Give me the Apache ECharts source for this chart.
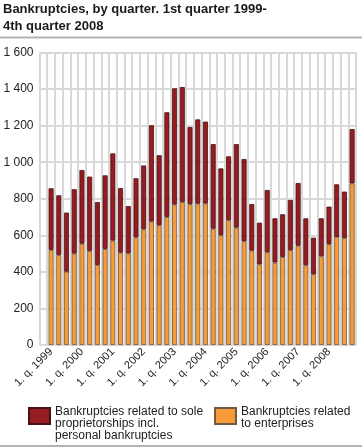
<!DOCTYPE html>
<html>
<head>
<meta charset="utf-8">
<script src="https://cdn.jsdelivr.net/npm/echarts@6/dist/echarts.min.js"></script>
<style>
html,body{margin:0;padding:0;background:#fff;}
#chart{width:362px;height:448px;}
</style>
</head>
<body>
<div id="chart"></div>
<script>
var years = [1999,2000,2001,2002,2003,2004,2005,2006,2007,2008];
var categories = [];
years.forEach(function(y){ for (var q = 1; q <= 4; q++) categories.push(q + '. q. ' + y); });

var enterprises = [520,492,401,500, 554,514,438,525, 571,505,501,589, 633,675,655,700,
  768,782,770,773, 774,636,600,682, 642,567,516,441, 507,451,481,518,
  543,436,387,485, 551,591,585,884];
var soleProprietorships = [337,327,323,352, 403,407,344,403, 477,353,259,323, 349,527,383,573,
  636,629,422,461, 448,463,366,350, 457,450,255,228, 341,242,234,275,
  343,257,200,208, 206,288,254,297];

var yTicks = [0,200,400,600,800,1000,1200,1400,1600];

var nameSole = 'Bankruptcies related to sole\nproprietorships incl.\npersonal bankruptcies';
var nameEnt = 'Bankruptcies related\nto enterprises';

function legendFormatter(padH) {
  return function (name) {
    return '{p' + padH + '| }\n' + name.split('\n').map(function (l) { return '{t|' + l + '}'; }).join('\n');
  };
}
var richStyles = {
  p16: { fontSize: 1, lineHeight: 16, height: 16 },
  p4: { fontSize: 1, lineHeight: 4, height: 4 },
  t: { fontSize: 12, lineHeight: 12, color: '#222', fontFamily: 'Arial, "Liberation Sans", sans-serif' }
};

var chart = echarts.init(document.getElementById('chart'), null, {renderer:'canvas'});
var xData = [''].concat(categories);
var option = {
  animation: false,
  backgroundColor: '#fff',
  textStyle: { fontFamily: 'Arial, "Liberation Sans", sans-serif' },
  title: {
    text: 'Bankruptcies, by quarter. 1st quarter 1999-\n4th quarter 2008',
    left: 3, top: 1, padding: 0,
    textStyle: { fontSize: 13, fontWeight: 'bold', lineHeight: 17, color: '#1a1a1a', fontFamily: 'Arial, "Liberation Sans", sans-serif' }
  },
  graphic: [
    { type: 'line', shape: { x1: 0, y1: 37.5, x2: 362, y2: 37.5 }, style: { stroke: '#b4b4b4', lineWidth: 2 } },
    { type: 'line', shape: { x1: 0, y1: 446, x2: 362, y2: 446 }, style: { stroke: '#b4b4b4', lineWidth: 2 } }
  ],
  legend: [
    { data: [{ name: nameSole, icon: 'rect' }], left: 28, top: 390, padding: 0, orient: 'vertical',
      itemWidth: 21, itemHeight: 16, selectedMode: false,
      formatter: legendFormatter(16),
      textStyle: { fontSize: 12, color: '#222', rich: richStyles } },
    { data: [{ name: nameEnt, icon: 'rect' }], left: 214, top: 402, padding: 0, orient: 'vertical',
      itemWidth: 21, itemHeight: 16, selectedMode: false,
      formatter: legendFormatter(4),
      textStyle: { fontSize: 12, color: '#222', rich: richStyles } }
  ],
  grid: { left: 39.5, right: 6, top: 52.5, bottom: 103, containLabel: false },
  xAxis: {
    type: 'category',
    data: xData,
    boundaryGap: true,
    axisLine: { show: false },
    axisTick: { show: false },
    axisLabel: {
      interval: function (idx) { return idx > 0 && (idx - 1) % 4 === 0; },
      rotate: 45, fontSize: 11, color: '#222', margin: 5
    },
    splitLine: { show: true, interval: 0, lineStyle: { color: '#d8d8d8', width: 2 } }
  },
  yAxis: {
    type: 'value',
    min: yTicks[0], max: yTicks[yTicks.length - 1], interval: 200,
    axisLine: { show: false },
    axisTick: { show: false },
    axisLabel: {
      fontSize: 12, color: '#222', margin: 6,
      formatter: function (v) { return v >= 1000 ? Math.floor(v / 1000) + ' ' + String(v % 1000).padStart(3, '0') : String(v); }
    },
    splitLine: { show: true, lineStyle: { color: '#d8d8d8', width: 2 } }
  },
  series: [
    { name: nameEnt, type: 'bar', stack: 'total', barWidth: 5,
      data: [null].concat(enterprises),
      itemStyle: { color: '#f79a38', borderColor: '#6f5a46', borderWidth: 0.8 } },
    { name: nameSole, type: 'bar', stack: 'total', barWidth: 5,
      data: [null].concat(soleProprietorships),
      itemStyle: { color: '#961c21', borderColor: '#4a1214', borderWidth: 0.8 } }
  ]
};
chart.setOption(option);
</script>
</body>
</html>
